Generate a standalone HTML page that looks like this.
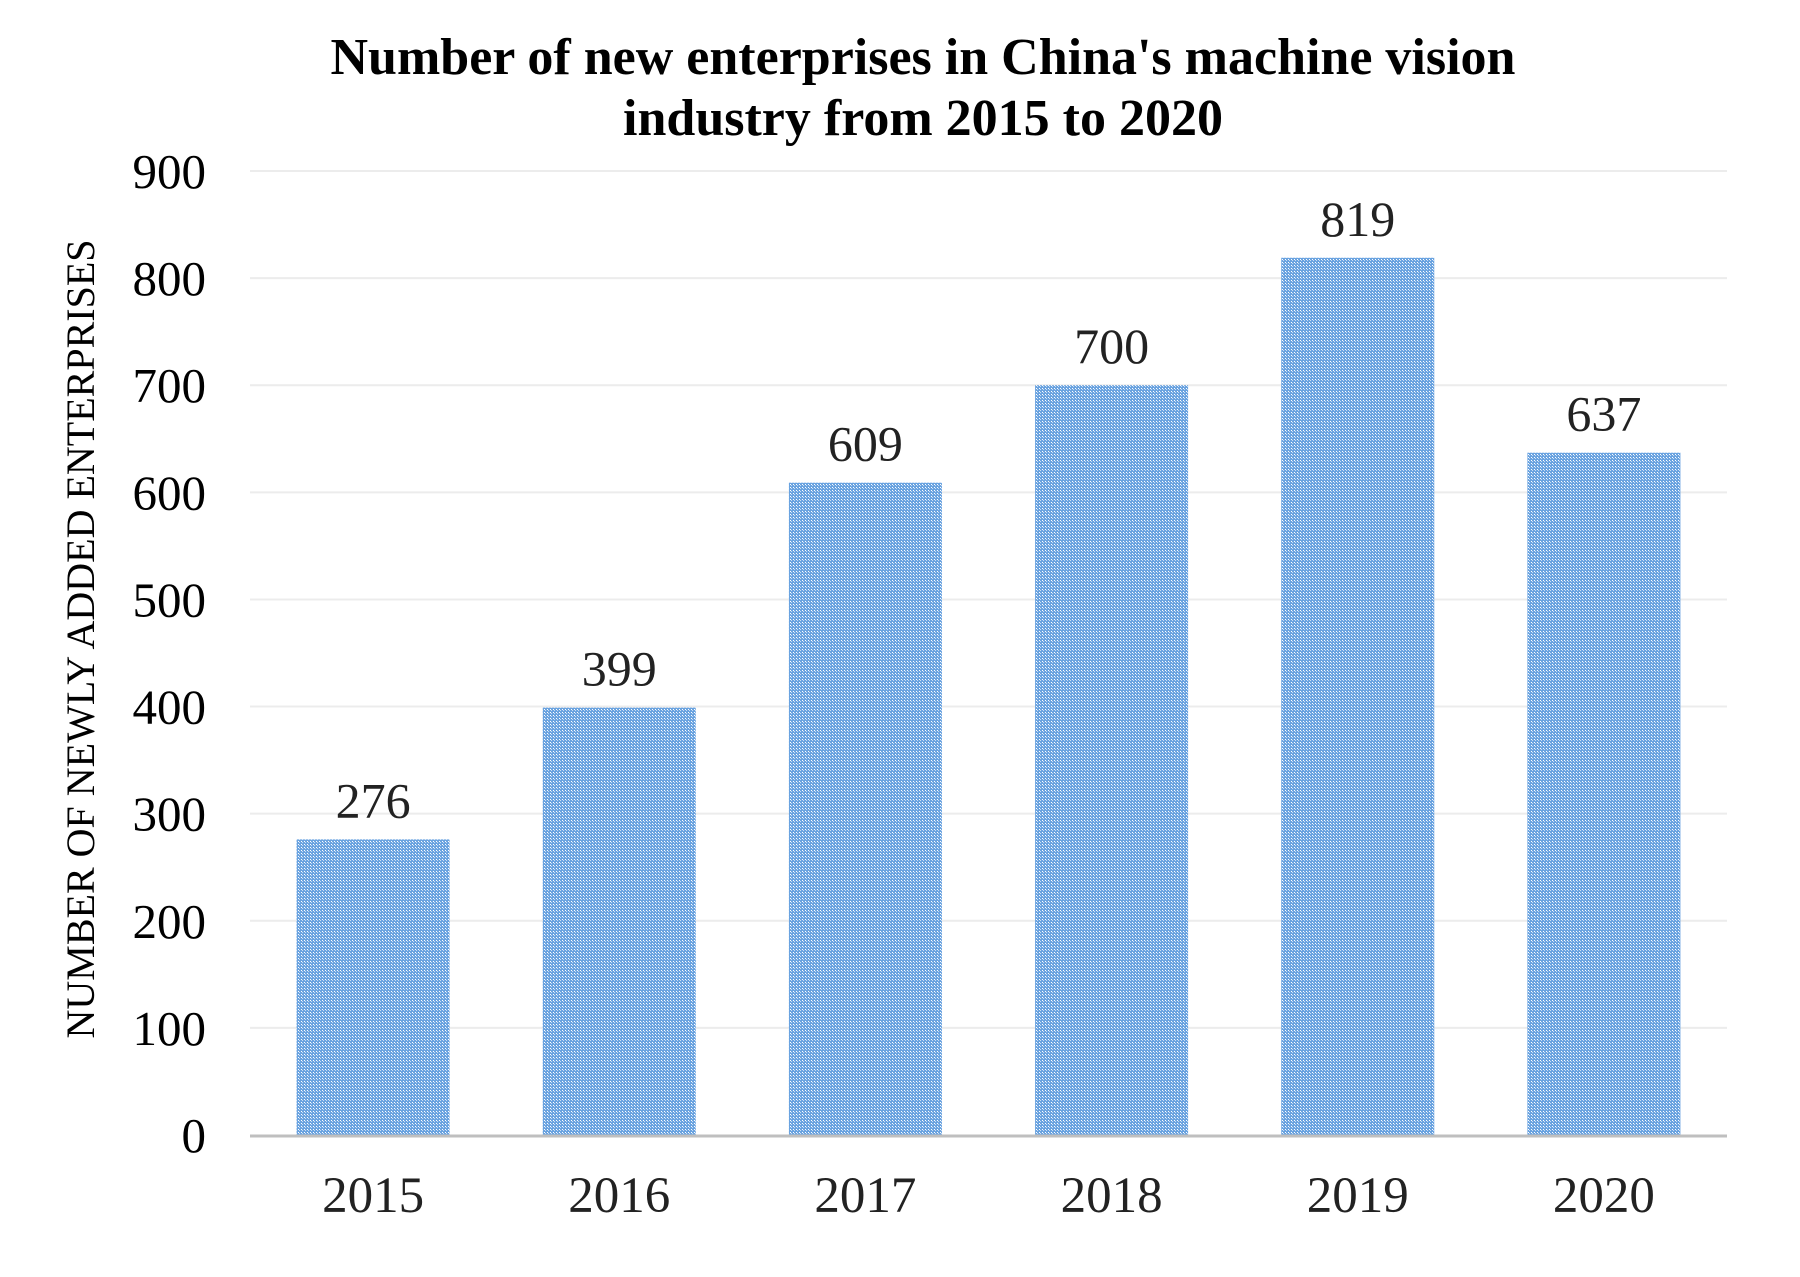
<!DOCTYPE html>
<html><head><meta charset="utf-8"><style>
html,body{margin:0;padding:0;background:#fff;}
svg text{font-family:"Liberation Serif",serif;}
</style></head><body>
<svg id="chart" width="1800" height="1272" viewBox="0 0 1800 1272" xmlns="http://www.w3.org/2000/svg">
<defs>
<pattern id="dots" width="3" height="3" patternUnits="userSpaceOnUse">
<rect width="3" height="3" fill="#6aa3e0"/>
<rect x="1" y="1" width="1" height="1" fill="#ffffff"/>
<rect x="2" y="2" width="1" height="1" fill="#c9dcf3"/>
</pattern>
</defs>
<text x="923" y="74" text-anchor="middle" font-size="52" font-weight="bold" fill="#000">Number of new enterprises in China's machine vision</text>
<text x="923" y="135" text-anchor="middle" font-size="52" font-weight="bold" fill="#000">industry from 2015 to 2020</text>
<text transform="translate(94,639) rotate(-90)" text-anchor="middle" font-size="40" fill="#000">NUMBER OF NEWLY ADDED ENTERPRISES</text>
<g id="grid"></g>
<g id="bars"></g>
<g id="labels"></g>
</svg>
<script>
const categories=["2015","2016","2017","2018","2019","2020"];
const values=[276,399,609,700,819,637];
const yTicks=[0,100,200,300,400,500,600,700,800,900];
const NS="http://www.w3.org/2000/svg";
const X0=250,X1=1727,Y0=1135,Y900=171;
function y(v){return Y0-(v/900)*(Y0-Y900);}
const band=(X1-X0)/categories.length;
function xc(i){return X0+band*(i+0.5);}
const grid=document.getElementById('grid'),bars=document.getElementById('bars'),labels=document.getElementById('labels');
function mk(tag,attrs,parent,text){const e=document.createElementNS(NS,tag);for(const k in attrs)e.setAttribute(k,attrs[k]);if(text!==undefined)e.textContent=text;parent.appendChild(e);return e;}
yTicks.forEach(t=>{
  if(t>0){const l=mk('line',{x1:X0,x2:X1,y1:y(t),y2:y(t),stroke:'#ececec','stroke-width':2},grid);
  
  }
  const tx=mk('text',{x:206,y:y(t)+17,'text-anchor':'end','font-size':49,fill:'#000'},labels,String(t));
  
  
});
categories.forEach((c,i)=>{
  const w=153;
  const r=mk('rect',{x:xc(i)-w/2,y:y(values[i]),width:w,height:Y0-y(values[i]),fill:'url(#dots)'},bars);
  
  
  const v=mk('text',{x:xc(i),y:y(values[i])-22,'text-anchor':'middle','font-size':50,fill:'#222'},labels,String(values[i]));
  
  
  const cl=mk('text',{x:xc(i),y:1212,'text-anchor':'middle','font-size':51,fill:'#222'},labels,c);
  
  
});
const ax=mk('line',{x1:X0,x2:X1,y1:Y0+1,y2:Y0+1,stroke:'#bfbfbf','stroke-width':3},labels);


</script>
</body></html>
